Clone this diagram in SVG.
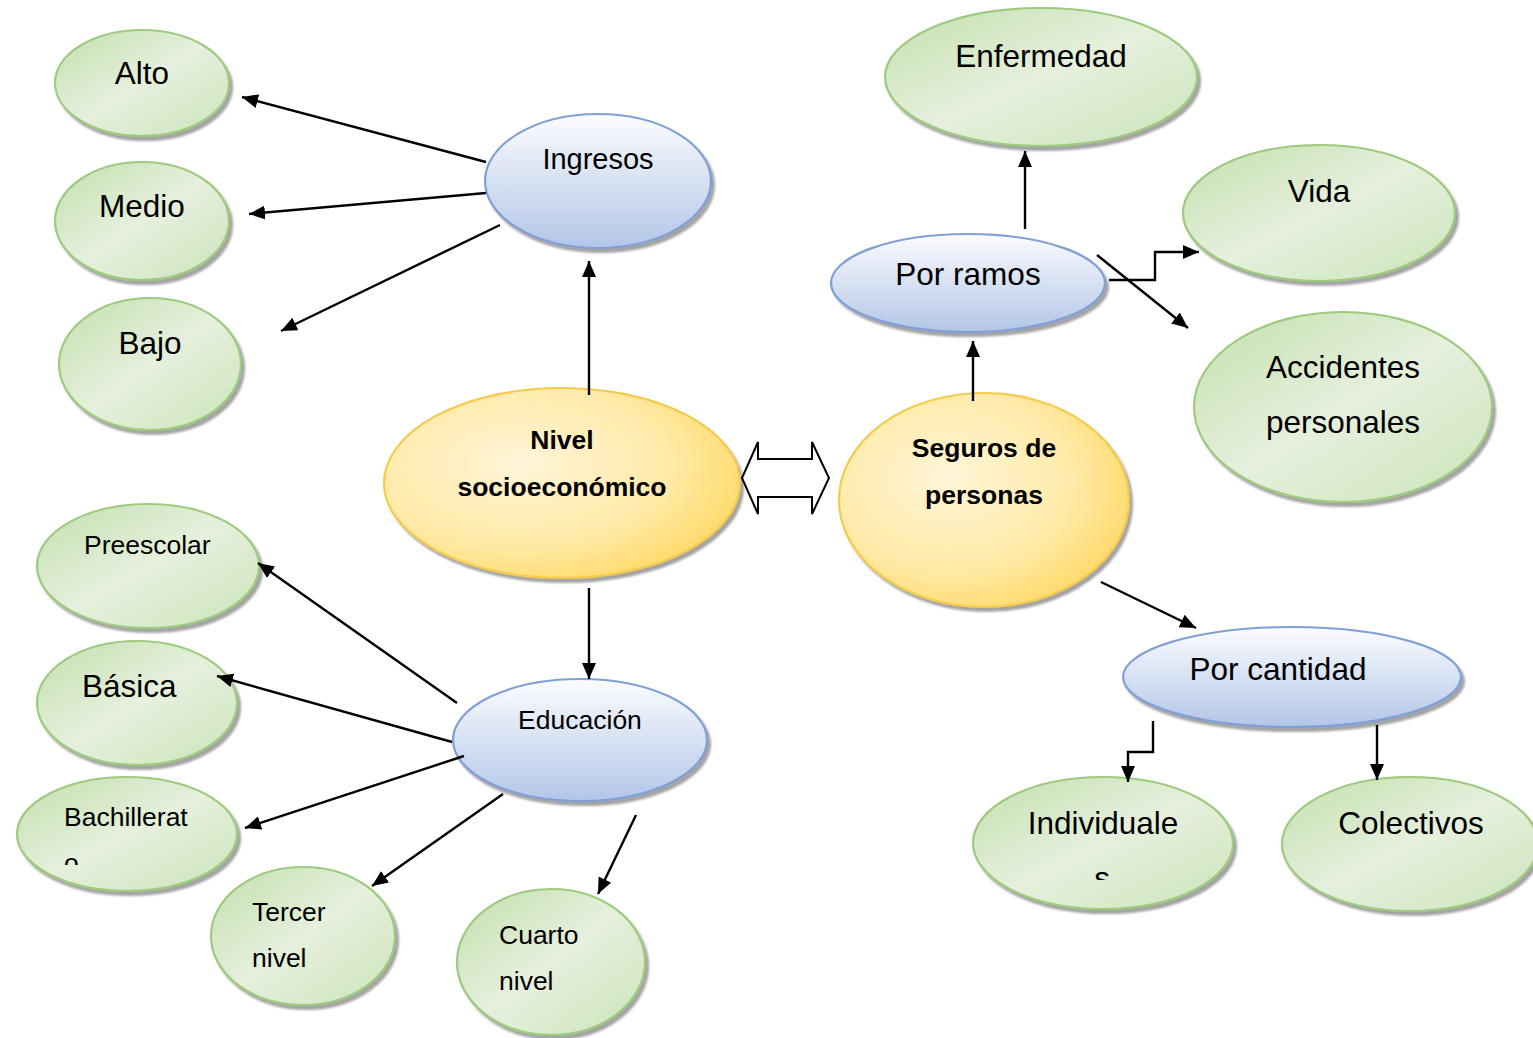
<svg xmlns="http://www.w3.org/2000/svg" width="1533" height="1038" viewBox="0 0 1533 1038">
  <style>
    text { font-family: "Liberation Sans", Arial, sans-serif; fill: #000; }
    .big { font-size: 31.5px; }
    .ing { font-size: 29px; }
    .mid { font-size: 26.5px; }
    .bold { font-size: 26.5px; font-weight: bold; }
    .green { fill: url(#gGreen); stroke: #9ccb7e; stroke-width: 2.2; filter: url(#shadow); }
    .blue { fill: url(#gBlue); stroke: #7f9fd6; stroke-width: 2.2; filter: url(#shadow); }
    .yellow { fill: url(#gYellow); stroke: #f6cb4c; stroke-width: 2.2; filter: url(#shadow); }
    .conn { fill: none; stroke: #000; stroke-width: 2.4; }
  </style>
  <defs>
    <linearGradient id="gGreen" x1="0" y1="0" x2="1" y2="1">
      <stop offset="0" stop-color="#c3dfad"/>
      <stop offset="0.5" stop-color="#e6f0dd"/>
      <stop offset="1" stop-color="#cce4b9"/>
    </linearGradient>
    <linearGradient id="gBlue" x1="0" y1="0" x2="0" y2="1">
      <stop offset="0" stop-color="#fbfcfe"/>
      <stop offset="1" stop-color="#b3c6e8"/>
    </linearGradient>
    <radialGradient id="gYellow" cx="0.38" cy="0.4" r="0.7">
      <stop offset="0" stop-color="#fff5d8"/>
      <stop offset="0.6" stop-color="#ffeaa8"/>
      <stop offset="1" stop-color="#ffd862"/>
    </radialGradient>
    <filter id="shadow" x="-10%" y="-10%" width="125%" height="130%">
      <feDropShadow dx="3" dy="4" stdDeviation="1.2" flood-color="#5a5a5a" flood-opacity="0.55"/>
    </filter>
    <marker id="arrow" viewBox="0 0 16 14" refX="16" refY="7" markerWidth="16" markerHeight="14" markerUnits="userSpaceOnUse" orient="auto">
      <path d="M0,0 L16,7 L0,14 Z" fill="#000"/>
    </marker>
    <clipPath id="clipBach"><rect x="0" y="770" width="260" height="95"/></clipPath>
    <clipPath id="clipIndiv"><rect x="960" y="770" width="290" height="110"/></clipPath>
  </defs>

  <!-- central concepts -->
  <g id="nivel">
    <ellipse class="yellow" cx="562" cy="483" rx="178" ry="95"/>
    <text class="bold" x="562" y="449" text-anchor="middle">Nivel</text>
    <text class="bold" x="562" y="496" text-anchor="middle">socioeconómico</text>
  </g>
  <g id="seguros">
    <ellipse class="yellow" cx="984" cy="500" rx="145" ry="107"/>
    <text class="bold" x="984" y="457" text-anchor="middle">Seguros de</text>
    <text class="bold" x="984" y="504" text-anchor="middle">personas</text>
  </g>

  <!-- income branch -->
  <g id="ingresos">
    <ellipse class="blue" cx="598" cy="181" rx="113" ry="67"/>
    <text class="ing" x="598" y="169" text-anchor="middle">Ingresos</text>
  </g>
  <g id="alto">
    <ellipse class="green" cx="142" cy="83" rx="87" ry="53"/>
    <text class="big" x="142" y="84" text-anchor="middle">Alto</text>
  </g>
  <g id="medio">
    <ellipse class="green" cx="142" cy="221" rx="87" ry="59"/>
    <text class="big" x="142" y="217" text-anchor="middle">Medio</text>
  </g>
  <g id="bajo">
    <ellipse class="green" cx="150" cy="364" rx="91" ry="66"/>
    <text class="big" x="150" y="354" text-anchor="middle">Bajo</text>
  </g>

  <!-- education branch -->
  <g id="educacion">
    <ellipse class="blue" cx="580" cy="740" rx="127" ry="61"/>
    <text class="mid" x="580" y="729" text-anchor="middle">Educación</text>
  </g>
  <g id="preescolar">
    <ellipse class="green" cx="148" cy="566" rx="111" ry="62"/>
    <text class="mid" x="84" y="554">Preescolar</text>
  </g>
  <g id="basica">
    <ellipse class="green" cx="137" cy="703" rx="100" ry="62"/>
    <text class="big" x="82" y="697">Básica</text>
  </g>
  <g id="bachillerato">
    <ellipse class="green" cx="127" cy="834" rx="110" ry="57"/>
    <g clip-path="url(#clipBach)">
      <text class="mid" x="64" y="826">Bachillerat</text>
      <text class="mid" x="64" y="872">o</text>
    </g>
  </g>
  <g id="tercer">
    <ellipse class="green" cx="303" cy="936" rx="92" ry="69"/>
    <text class="mid" x="252" y="921">Tercer</text>
    <text class="mid" x="252" y="967">nivel</text>
  </g>
  <g id="cuarto">
    <ellipse class="green" cx="551" cy="962" rx="94" ry="73"/>
    <text class="mid" x="499" y="944">Cuarto</text>
    <text class="mid" x="499" y="990">nivel</text>
  </g>

  <!-- insurance branch -->
  <g id="por-ramos">
    <ellipse class="blue" cx="968" cy="283" rx="137" ry="49"/>
    <text class="big" x="968" y="285" text-anchor="middle">Por ramos</text>
  </g>
  <g id="enfermedad">
    <ellipse class="green" cx="1041" cy="77" rx="156" ry="69"/>
    <text class="big" x="1041" y="67" text-anchor="middle">Enfermedad</text>
  </g>
  <g id="vida">
    <ellipse class="green" cx="1319" cy="213" rx="136" ry="68"/>
    <text class="big" x="1319" y="202" text-anchor="middle">Vida</text>
  </g>
  <g id="accidentes">
    <ellipse class="green" cx="1343" cy="407" rx="149" ry="95"/>
    <text class="big" x="1343" y="378" text-anchor="middle">Accidentes</text>
    <text class="big" x="1343" y="433" text-anchor="middle">personales</text>
  </g>
  <g id="por-cantidad">
    <ellipse class="blue" cx="1292" cy="677" rx="169" ry="50"/>
    <text class="big" x="1278" y="680" text-anchor="middle">Por cantidad</text>
  </g>
  <g id="individuales">
    <ellipse class="green" cx="1103" cy="843" rx="130" ry="66"/>
    <g clip-path="url(#clipIndiv)">
      <text class="big" x="1103" y="834" text-anchor="middle">Individuale</text>
      <text class="big" x="1102" y="889" text-anchor="middle">s</text>
    </g>
  </g>
  <g id="colectivos">
    <ellipse class="green" cx="1410" cy="844" rx="128" ry="67"/>
    <text class="big" x="1411" y="834" text-anchor="middle">Colectivos</text>
  </g>

  <!-- connectors -->
  <g id="connectors">
    <line class="conn" x1="486" y1="162" x2="242" y2="97" marker-end="url(#arrow)"/>
    <line class="conn" x1="486" y1="193" x2="249" y2="214" marker-end="url(#arrow)"/>
    <line class="conn" x1="500" y1="225" x2="281" y2="331" marker-end="url(#arrow)"/>
    <line class="conn" x1="589" y1="395" x2="589" y2="261" marker-end="url(#arrow)"/>
    <line class="conn" x1="589" y1="588" x2="589" y2="679" marker-end="url(#arrow)"/>
    <line class="conn" x1="457" y1="703" x2="258" y2="563" marker-end="url(#arrow)"/>
    <line class="conn" x1="452" y1="742" x2="217" y2="676" marker-end="url(#arrow)"/>
    <line class="conn" x1="464" y1="756" x2="245" y2="828" marker-end="url(#arrow)"/>
    <line class="conn" x1="503" y1="794" x2="372" y2="886" marker-end="url(#arrow)"/>
    <line class="conn" x1="636" y1="815" x2="598" y2="894" marker-end="url(#arrow)"/>
    <line class="conn" x1="973" y1="401" x2="973" y2="341" marker-end="url(#arrow)"/>
    <line class="conn" x1="1025" y1="229" x2="1025" y2="151" marker-end="url(#arrow)"/>
    <polyline class="conn" points="1109,280 1155,280 1155,252 1199,252" marker-end="url(#arrow)"/>
    <line class="conn" x1="1097" y1="255" x2="1188" y2="328" marker-end="url(#arrow)"/>
    <line class="conn" x1="1101" y1="582" x2="1196" y2="628" marker-end="url(#arrow)"/>
    <polyline class="conn" points="1153,721 1153,752 1128,752 1128,782" marker-end="url(#arrow)"/>
    <line class="conn" x1="1377" y1="725" x2="1377" y2="780" marker-end="url(#arrow)"/>
    <!-- two-way block arrow between the central concepts -->
    <polygon points="742,478 758,442 758,459 812,459 812,442 829,478 812,514 812,497 758,497 758,514" fill="#fff" stroke="#000" stroke-width="2" stroke-linejoin="miter"/>
  </g>
</svg>
